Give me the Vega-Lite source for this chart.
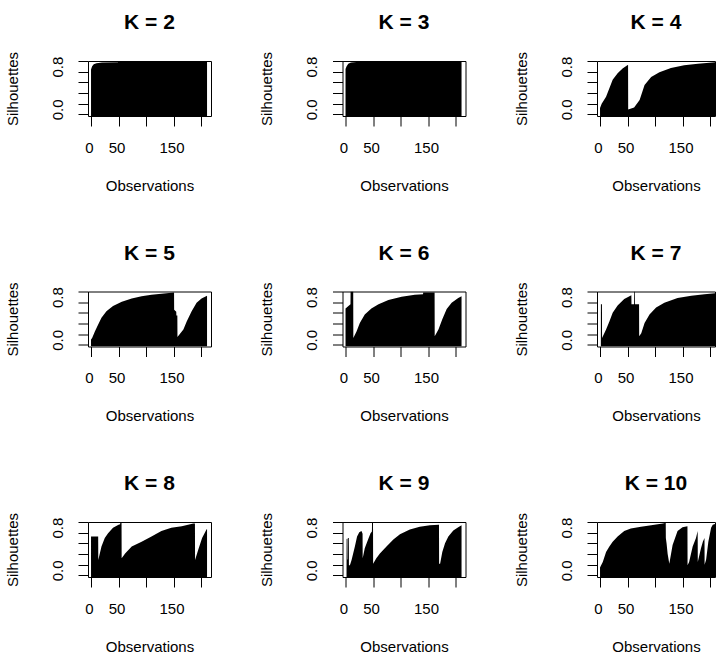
{
  "$schema": "https://vega.github.io/schema/vega-lite/v6.json",
  "background": "white",
  "padding": {"left": 4, "top": 11, "right": 0, "bottom": 0},
  "data": {"values": [
    {"k":2,"obs":0,"sil":0.84},{"k":2,"obs":2,"sil":0.9},{"k":2,"obs":5,"sil":0.94},{"k":2,"obs":10,"sil":0.96},{"k":2,"obs":20,"sil":0.97},{"k":2,"obs":49,"sil":0.975},{"k":2,"obs":49.2,"sil":1.0},{"k":2,"obs":211,"sil":1.0},
    {"k":3,"obs":0,"sil":0.85},{"k":3,"obs":2,"sil":0.9},{"k":3,"obs":5,"sil":0.95},{"k":3,"obs":10,"sil":0.97},{"k":3,"obs":20,"sil":0.98},{"k":3,"obs":53,"sil":0.98},{"k":3,"obs":53.2,"sil":1.0},{"k":3,"obs":211,"sil":1.0},
    {"k":4,"obs":0,"sil":0.12},{"k":4,"obs":3,"sil":0.2},{"k":4,"obs":11,"sil":0.33},{"k":4,"obs":17,"sil":0.49},{"k":4,"obs":23,"sil":0.65},{"k":4,"obs":32,"sil":0.77},{"k":4,"obs":41,"sil":0.86},{"k":4,"obs":51,"sil":0.93},{"k":4,"obs":51.2,"sil":0.09},{"k":4,"obs":62,"sil":0.13},{"k":4,"obs":72,"sil":0.27},{"k":4,"obs":81,"sil":0.55},{"k":4,"obs":93,"sil":0.7},{"k":4,"obs":108,"sil":0.79},{"k":4,"obs":129,"sil":0.87},{"k":4,"obs":153,"sil":0.92},{"k":4,"obs":178,"sil":0.95},{"k":4,"obs":211,"sil":0.98},
    {"k":5,"obs":0,"sil":0.1},{"k":5,"obs":2,"sil":0.13},{"k":5,"obs":7,"sil":0.25},{"k":5,"obs":13,"sil":0.38},{"k":5,"obs":19,"sil":0.51},{"k":5,"obs":28,"sil":0.63},{"k":5,"obs":40,"sil":0.73},{"k":5,"obs":56,"sil":0.81},{"k":5,"obs":74,"sil":0.87},{"k":5,"obs":92,"sil":0.91},{"k":5,"obs":110,"sil":0.94},{"k":5,"obs":128,"sil":0.96},{"k":5,"obs":151,"sil":0.98},{"k":5,"obs":151.2,"sil":0.66},{"k":5,"obs":155,"sil":0.62},{"k":5,"obs":155.2,"sil":0.55},{"k":5,"obs":157,"sil":0.55},{"k":5,"obs":157.2,"sil":0.15},{"k":5,"obs":168,"sil":0.29},{"k":5,"obs":174,"sil":0.44},{"k":5,"obs":183,"sil":0.63},{"k":5,"obs":192,"sil":0.79},{"k":5,"obs":201,"sil":0.87},{"k":5,"obs":211,"sil":0.92},
    {"k":6,"obs":0,"sil":0.68},{"k":6,"obs":9,"sil":0.76},{"k":6,"obs":9.2,"sil":1.0},{"k":6,"obs":14,"sil":1.0},{"k":6,"obs":14.2,"sil":0.13},{"k":6,"obs":20,"sil":0.25},{"k":6,"obs":26,"sil":0.41},{"k":6,"obs":35,"sil":0.57},{"k":6,"obs":47,"sil":0.68},{"k":6,"obs":60,"sil":0.76},{"k":6,"obs":78,"sil":0.84},{"k":6,"obs":102,"sil":0.9},{"k":6,"obs":126,"sil":0.94},{"k":6,"obs":141,"sil":0.95},{"k":6,"obs":141.2,"sil":0.98},{"k":6,"obs":162,"sil":0.98},{"k":6,"obs":162.2,"sil":0.16},{"k":6,"obs":169,"sil":0.29},{"k":6,"obs":176,"sil":0.48},{"k":6,"obs":184,"sil":0.67},{"k":6,"obs":193,"sil":0.79},{"k":6,"obs":205,"sil":0.88},{"k":6,"obs":211,"sil":0.91},
    {"k":7,"obs":1.5,"sil":0},{"k":7,"obs":1.6,"sil":0.76},{"k":7,"obs":3.5,"sil":0.76},{"k":7,"obs":3.7,"sil":0.13},{"k":7,"obs":11,"sil":0.29},{"k":7,"obs":17,"sil":0.44},{"k":7,"obs":23,"sil":0.6},{"k":7,"obs":32,"sil":0.74},{"k":7,"obs":44,"sil":0.86},{"k":7,"obs":57,"sil":0.93},{"k":7,"obs":57.2,"sil":0.76},{"k":7,"obs":62,"sil":0.76},{"k":7,"obs":62.2,"sil":1.0},{"k":7,"obs":63.5,"sil":1.0},{"k":7,"obs":63.7,"sil":0.76},{"k":7,"obs":71,"sil":0.76},{"k":7,"obs":71.2,"sil":0.16},{"k":7,"obs":75,"sil":0.22},{"k":7,"obs":81,"sil":0.41},{"k":7,"obs":90,"sil":0.57},{"k":7,"obs":102,"sil":0.7},{"k":7,"obs":117,"sil":0.79},{"k":7,"obs":141,"sil":0.88},{"k":7,"obs":166,"sil":0.92},{"k":7,"obs":190,"sil":0.95},{"k":7,"obs":211,"sil":0.97},
    {"k":8,"obs":0,"sil":0.73},{"k":8,"obs":13,"sil":0.73},{"k":8,"obs":13.2,"sil":0.29},{"k":8,"obs":19,"sil":0.54},{"k":8,"obs":25,"sil":0.7},{"k":8,"obs":31,"sil":0.79},{"k":8,"obs":40,"sil":0.89},{"k":8,"obs":50,"sil":0.95},{"k":8,"obs":53,"sil":0.96},{"k":8,"obs":53.2,"sil":1.0},{"k":8,"obs":55.5,"sil":1.0},{"k":8,"obs":55.7,"sil":0.32},{"k":8,"obs":62,"sil":0.41},{"k":8,"obs":74,"sil":0.54},{"k":8,"obs":92,"sil":0.63},{"k":8,"obs":110,"sil":0.73},{"k":8,"obs":128,"sil":0.83},{"k":8,"obs":146,"sil":0.89},{"k":8,"obs":165,"sil":0.92},{"k":8,"obs":186,"sil":0.97},{"k":8,"obs":189,"sil":0.97},{"k":8,"obs":189.2,"sil":0.29},{"k":8,"obs":195,"sil":0.48},{"k":8,"obs":202,"sil":0.7},{"k":8,"obs":210,"sil":0.86},{"k":8,"obs":211,"sil":0.87},
    {"k":9,"obs":1.8,"sil":0},{"k":9,"obs":2,"sil":0.68},{"k":9,"obs":3.6,"sil":0.69},{"k":9,"obs":3.8,"sil":0.3},{"k":9,"obs":4.4,"sil":0.3},{"k":9,"obs":4.6,"sil":0.7},{"k":9,"obs":6,"sil":0.7},{"k":9,"obs":6.2,"sil":0.19},{"k":9,"obs":8,"sil":0.19},{"k":9,"obs":11,"sil":0.29},{"k":9,"obs":17,"sil":0.54},{"k":9,"obs":21,"sil":0.73},{"k":9,"obs":25,"sil":0.81},{"k":9,"obs":29,"sil":0.83},{"k":9,"obs":31,"sil":0.78},{"k":9,"obs":31.2,"sil":0.32},{"k":9,"obs":35,"sil":0.51},{"k":9,"obs":41,"sil":0.67},{"k":9,"obs":45.5,"sil":0.79},{"k":9,"obs":48,"sil":0.82},{"k":9,"obs":48.2,"sil":1.0},{"k":9,"obs":50,"sil":1.0},{"k":9,"obs":50.2,"sil":0.22},{"k":9,"obs":56,"sil":0.32},{"k":9,"obs":62.5,"sil":0.41},{"k":9,"obs":74.5,"sil":0.54},{"k":9,"obs":87,"sil":0.67},{"k":9,"obs":99,"sil":0.77},{"k":9,"obs":117,"sil":0.86},{"k":9,"obs":135,"sil":0.91},{"k":9,"obs":153.5,"sil":0.94},{"k":9,"obs":170,"sil":0.95},{"k":9,"obs":170.2,"sil":0.22},{"k":9,"obs":172,"sil":0.22},{"k":9,"obs":176,"sil":0.44},{"k":9,"obs":181,"sil":0.6},{"k":9,"obs":187,"sil":0.73},{"k":9,"obs":196,"sil":0.84},{"k":9,"obs":205,"sil":0.9},{"k":9,"obs":211,"sil":0.94},
    {"k":10,"obs":0,"sil":0.15},{"k":10,"obs":2,"sil":0.19},{"k":10,"obs":5,"sil":0.25},{"k":10,"obs":11,"sil":0.44},{"k":10,"obs":17,"sil":0.54},{"k":10,"obs":23,"sil":0.63},{"k":10,"obs":32,"sil":0.73},{"k":10,"obs":44,"sil":0.83},{"k":10,"obs":56,"sil":0.88},{"k":10,"obs":74.5,"sil":0.91},{"k":10,"obs":93,"sil":0.94},{"k":10,"obs":114,"sil":0.97},{"k":10,"obs":118,"sil":0.98},{"k":10,"obs":118.2,"sil":1.0},{"k":10,"obs":119.5,"sil":1.0},{"k":10,"obs":119.7,"sil":0.7},{"k":10,"obs":121,"sil":0.6},{"k":10,"obs":123,"sil":0.4},{"k":10,"obs":126,"sil":0.22},{"k":10,"obs":132,"sil":0.57},{"k":10,"obs":141,"sil":0.83},{"k":10,"obs":150,"sil":0.9},{"k":10,"obs":159,"sil":0.92},{"k":10,"obs":159.2,"sil":0.19},{"k":10,"obs":162,"sil":0.25},{"k":10,"obs":168.5,"sil":0.54},{"k":10,"obs":174.5,"sil":0.7},{"k":10,"obs":177.6,"sil":0.83},{"k":10,"obs":177.8,"sil":0.25},{"k":10,"obs":183.6,"sil":0.51},{"k":10,"obs":187,"sil":0.63},{"k":10,"obs":190,"sil":0.7},{"k":10,"obs":190.2,"sil":0.2},{"k":10,"obs":193,"sil":0.3},{"k":10,"obs":197,"sil":0.63},{"k":10,"obs":202,"sil":0.89},{"k":10,"obs":205,"sil":0.95},{"k":10,"obs":211,"sil":0.97}
  ]},
  "columns": 3,
  "bounds": "flush",
  "spacing": {"row": 175.5, "column": 131.5},
  "concat": [
    {"title": "K = 2", "width": 123, "height": 55, "transform": [{"filter": "datum.k == 2"}], "mark": {"type": "area", "color": "black", "clip": true, "interpolate": "linear"},
     "encoding": {"x": {"field": "obs", "type": "quantitative", "title": "Observations", "scale": {"domain": [-5.5, 218.2], "nice": false, "zero": false}, "axis": {"values": [0, 50, 100, 150, 200], "labelExpr": "datum.value == 100 || datum.value == 200 ? '' : datum.label"}},
                  "y": {"field": "sil", "type": "quantitative", "title": "Silhouettes", "scale": {"domain": [-0.03, 1.0], "nice": false, "zero": false}, "axis": {"values": [0, 0.2, 0.4, 0.6, 0.8, 1.0], "labelExpr": "datum.value == 0 ? '0.0' : (datum.value == 0.8 ? '0.8' : '')"}},
                  "y2": {"datum": -0.03}}},
    {"title": "K = 3", "width": 123, "height": 55, "transform": [{"filter": "datum.k == 3"}], "mark": {"type": "area", "color": "black", "clip": true, "interpolate": "linear"},
     "encoding": {"x": {"field": "obs", "type": "quantitative", "title": "Observations", "scale": {"domain": [-5.5, 218.2], "nice": false, "zero": false}, "axis": {"values": [0, 50, 100, 150, 200], "labelExpr": "datum.value == 100 || datum.value == 200 ? '' : datum.label"}},
                  "y": {"field": "sil", "type": "quantitative", "title": "Silhouettes", "scale": {"domain": [-0.03, 1.0], "nice": false, "zero": false}, "axis": {"values": [0, 0.2, 0.4, 0.6, 0.8, 1.0], "labelExpr": "datum.value == 0 ? '0.0' : (datum.value == 0.8 ? '0.8' : '')"}},
                  "y2": {"datum": -0.03}}},
    {"title": "K = 4", "width": 118, "height": 55, "transform": [{"filter": "datum.k == 4"}], "mark": {"type": "area", "color": "black", "clip": true, "interpolate": "linear"},
     "encoding": {"x": {"field": "obs", "type": "quantitative", "title": "Observations", "scale": {"domain": [-5.5, 209.1], "nice": false, "zero": false}, "axis": {"values": [0, 50, 100, 150, 200], "labelExpr": "datum.value == 100 || datum.value == 200 ? '' : datum.label"}},
                  "y": {"field": "sil", "type": "quantitative", "title": "Silhouettes", "scale": {"domain": [-0.03, 1.0], "nice": false, "zero": false}, "axis": {"values": [0, 0.2, 0.4, 0.6, 0.8, 1.0], "labelExpr": "datum.value == 0 ? '0.0' : (datum.value == 0.8 ? '0.8' : '')"}},
                  "y2": {"datum": -0.03}}},
    {"title": "K = 5", "width": 123, "height": 55, "transform": [{"filter": "datum.k == 5"}], "mark": {"type": "area", "color": "black", "clip": true, "interpolate": "linear"},
     "encoding": {"x": {"field": "obs", "type": "quantitative", "title": "Observations", "scale": {"domain": [-5.5, 218.2], "nice": false, "zero": false}, "axis": {"values": [0, 50, 100, 150, 200], "labelExpr": "datum.value == 100 || datum.value == 200 ? '' : datum.label"}},
                  "y": {"field": "sil", "type": "quantitative", "title": "Silhouettes", "scale": {"domain": [-0.03, 1.0], "nice": false, "zero": false}, "axis": {"values": [0, 0.2, 0.4, 0.6, 0.8, 1.0], "labelExpr": "datum.value == 0 ? '0.0' : (datum.value == 0.8 ? '0.8' : '')"}},
                  "y2": {"datum": -0.03}}},
    {"title": "K = 6", "width": 123, "height": 55, "transform": [{"filter": "datum.k == 6"}], "mark": {"type": "area", "color": "black", "clip": true, "interpolate": "linear"},
     "encoding": {"x": {"field": "obs", "type": "quantitative", "title": "Observations", "scale": {"domain": [-5.5, 218.2], "nice": false, "zero": false}, "axis": {"values": [0, 50, 100, 150, 200], "labelExpr": "datum.value == 100 || datum.value == 200 ? '' : datum.label"}},
                  "y": {"field": "sil", "type": "quantitative", "title": "Silhouettes", "scale": {"domain": [-0.03, 1.0], "nice": false, "zero": false}, "axis": {"values": [0, 0.2, 0.4, 0.6, 0.8, 1.0], "labelExpr": "datum.value == 0 ? '0.0' : (datum.value == 0.8 ? '0.8' : '')"}},
                  "y2": {"datum": -0.03}}},
    {"title": "K = 7", "width": 118, "height": 55, "transform": [{"filter": "datum.k == 7"}], "mark": {"type": "area", "color": "black", "clip": true, "interpolate": "linear"},
     "encoding": {"x": {"field": "obs", "type": "quantitative", "title": "Observations", "scale": {"domain": [-5.5, 209.1], "nice": false, "zero": false}, "axis": {"values": [0, 50, 100, 150, 200], "labelExpr": "datum.value == 100 || datum.value == 200 ? '' : datum.label"}},
                  "y": {"field": "sil", "type": "quantitative", "title": "Silhouettes", "scale": {"domain": [-0.03, 1.0], "nice": false, "zero": false}, "axis": {"values": [0, 0.2, 0.4, 0.6, 0.8, 1.0], "labelExpr": "datum.value == 0 ? '0.0' : (datum.value == 0.8 ? '0.8' : '')"}},
                  "y2": {"datum": -0.03}}},
    {"title": "K = 8", "width": 123, "height": 55, "transform": [{"filter": "datum.k == 8"}], "mark": {"type": "area", "color": "black", "clip": true, "interpolate": "linear"},
     "encoding": {"x": {"field": "obs", "type": "quantitative", "title": "Observations", "scale": {"domain": [-5.5, 218.2], "nice": false, "zero": false}, "axis": {"values": [0, 50, 100, 150, 200], "labelExpr": "datum.value == 100 || datum.value == 200 ? '' : datum.label"}},
                  "y": {"field": "sil", "type": "quantitative", "title": "Silhouettes", "scale": {"domain": [-0.03, 1.0], "nice": false, "zero": false}, "axis": {"values": [0, 0.2, 0.4, 0.6, 0.8, 1.0], "labelExpr": "datum.value == 0 ? '0.0' : (datum.value == 0.8 ? '0.8' : '')"}},
                  "y2": {"datum": -0.03}}},
    {"title": "K = 9", "width": 123, "height": 55, "transform": [{"filter": "datum.k == 9"}], "mark": {"type": "area", "color": "black", "clip": true, "interpolate": "linear"},
     "encoding": {"x": {"field": "obs", "type": "quantitative", "title": "Observations", "scale": {"domain": [-5.5, 218.2], "nice": false, "zero": false}, "axis": {"values": [0, 50, 100, 150, 200], "labelExpr": "datum.value == 100 || datum.value == 200 ? '' : datum.label"}},
                  "y": {"field": "sil", "type": "quantitative", "title": "Silhouettes", "scale": {"domain": [-0.03, 1.0], "nice": false, "zero": false}, "axis": {"values": [0, 0.2, 0.4, 0.6, 0.8, 1.0], "labelExpr": "datum.value == 0 ? '0.0' : (datum.value == 0.8 ? '0.8' : '')"}},
                  "y2": {"datum": -0.03}}},
    {"title": "K = 10", "width": 118, "height": 55, "transform": [{"filter": "datum.k == 10"}], "mark": {"type": "area", "color": "black", "clip": true, "interpolate": "linear"},
     "encoding": {"x": {"field": "obs", "type": "quantitative", "title": "Observations", "scale": {"domain": [-5.5, 209.1], "nice": false, "zero": false}, "axis": {"values": [0, 50, 100, 150, 200], "labelExpr": "datum.value == 100 || datum.value == 200 ? '' : datum.label"}},
                  "y": {"field": "sil", "type": "quantitative", "title": "Silhouettes", "scale": {"domain": [-0.03, 1.0], "nice": false, "zero": false}, "axis": {"values": [0, 0.2, 0.4, 0.6, 0.8, 1.0], "labelExpr": "datum.value == 0 ? '0.0' : (datum.value == 0.8 ? '0.8' : '')"}},
                  "y2": {"datum": -0.03}}}
  ],
  "config": {
    "font": "Liberation Sans",
    "view": {"stroke": "black", "strokeWidth": 1, "fill": "white"},
    "title": {"fontSize": 21, "fontWeight": "bold", "color": "black", "font": "Liberation Sans", "anchor": "middle", "baseline": "alphabetic", "offset": 18},
    "axis": {"domain": false, "grid": false, "ticks": true, "tickColor": "black", "tickSize": 10, "tickWidth": 1,
             "labelFont": "Liberation Sans", "labelFontSize": 15, "labelColor": "black", "labelFlush": false, "labelOverlap": false,
             "titleFont": "Liberation Sans", "titleFontSize": 15, "titleFontWeight": "normal", "titleColor": "black"},
    "axisX": {"labelBaseline": "alphabetic", "labelPadding": 26, "labelOffset": -2, "titlePadding": 23},
    "axisY": {"labelAngle": -90, "labelAlign": "center", "labelBaseline": "alphabetic", "labelPadding": 16, "labelOffset": -5, "titlePadding": 30}
  }
}
